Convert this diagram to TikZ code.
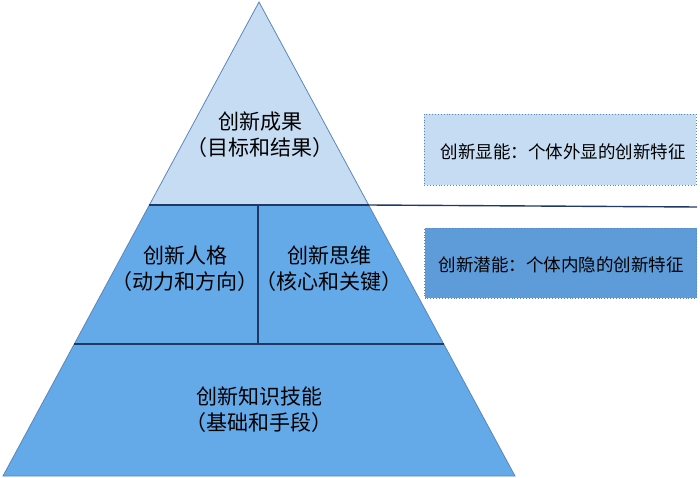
\documentclass[tikz,border=0pt]{standalone}
\usepackage{fontspec}
\newfontfamily\cjk{Noto Sans CJK SC}
\definecolor{toplight}{HTML}{C5DCF3}
\definecolor{midblue}{HTML}{64A9E8}
\definecolor{boxdark}{HTML}{5D9CD8}
\definecolor{navy}{HTML}{1F3864}
\definecolor{edge}{HTML}{5B86B8}
\tikzset{
  lbl/.style={font=\cjk\fontsize{21}{26}\selectfont, align=center, text=black, inner sep=0pt},
  boxlbl/.style={font=\cjk\fontsize{17.5}{21}\selectfont, text=black, inner sep=0pt},
  divider/.style={draw=navy, line width=1.6pt},
  infobox/.style={draw=edge, dotted, line width=0.9pt}
}
\begin{document}
\begin{tikzpicture}[x=1pt,y=-1pt]
\useasboundingbox (0,0) rectangle (700,478);
% vertices
\coordinate (apex) at (259,2);
\coordinate (bl) at (3,476);
\coordinate (br) at (515,476);
\coordinate (l1) at (149.4,205);
\coordinate (r1) at (368.6,205);
\coordinate (l2) at (74.3,344);
\coordinate (r2) at (443.7,344);
\coordinate (m1) at (258,205);
\coordinate (m2) at (258,344);
\coordinate (ext) at (697,207);
% fills
\fill[midblue] (l1) -- (r1) -- (br) -- (bl) -- cycle;
\fill[toplight] (apex) -- (r1) -- (l1) -- cycle;
\draw[edge, line width=0.8pt] (apex) -- (br) -- (bl) -- cycle;
% dividers
\draw[divider] (l1) -- (r1);
\draw[navy, line width=1.4pt] (r1) -- (ext);
\draw[divider] (m1) -- (m2);
\draw[divider] (l2) -- (r2);
% boxes
\node[infobox, fill=toplight, minimum width=272pt, minimum height=71pt, inner sep=0pt] (b1) at (560,149.5) {};
\node[infobox, fill=boxdark, minimum width=272pt, minimum height=70pt, inner sep=0pt] (b2) at (560.5,263) {};
\node[boxlbl] (t1) at (563,152) {创新显能：个体外显的创新特征};
\node[boxlbl] (t2) at (561,265) {创新潜能：个体内隐的创新特征};
% labels
\node[lbl] (top) at (260,135) {创新成果\\（目标和结果）};
\node[lbl] (left) at (185,269) {创新人格\\（动力和方向）};
\node[lbl] (right) at (329,269) {创新思维\\（核心和关键）};
\node[lbl] (bottom) at (259,410) {创新知识技能\\（基础和手段）};
\end{tikzpicture}
\end{document}
